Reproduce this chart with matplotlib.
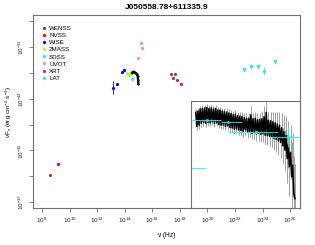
import matplotlib
matplotlib.use("Agg")
import matplotlib.pyplot as plt
import numpy as np
from matplotlib.ticker import FixedLocator, FuncFormatter, NullLocator

plt.rcParams["font.family"] = ["Liberation Sans", "DejaVu Sans"]
plt.rcParams["mathtext.default"] = "regular"

TITLE = "J050558.78+611335.9"

# all values: log10(nu / Hz) and log10(nuFnu / erg cm^-2 s^-1)
wenss_x = [8.58]
wenss_y = [-15.94]
nvss_x = [9.18]
nvss_y = [-15.51]
wise_x = [13.17, 13.46, 13.83, 13.97]
wise_y = [-12.57, -12.41, -11.97, -11.88]
wise_err = [0.25, 0.04, 0.03, 0.03]
tmass_x = [14.15, 14.31, 14.41]
tmass_y = [-12.01, -12.07, -12.05]
sdss_x = [14.55]
sdss_y = [-12.24]
uvot_x = [14.99, 15.18, 15.23]
uvot_y = [-11.43, -10.84, -11.02]
opt_x = [14.53, 14.64, 14.75, 14.86, 14.93, 14.97, 14.99]
opt_y = [-11.98, -11.94, -11.98, -12.02, -12.11, -12.27, -12.42]
xrt_x = [17.36, 17.63, 17.53, 17.77, 18.09]
xrt_y = [-12.03, -12.03, -12.18, -12.27, -12.43]
lat_ul_x = [22.66, 23.15, 23.65, 24.91]
lat_ul_y = [-11.87, -11.75, -11.75, -11.58]
lat_x = [24.13]
lat_y = [-11.91]
lat_err = [0.16]

# inset: high-energy spectrum (black, gray errors) and binned points (cyan)
spec_x = [19.15, 19.23, 19.31, 19.39, 19.47, 19.55, 19.63, 19.71, 19.79, 19.87,
          19.95, 20.03, 20.11, 20.19, 20.27, 20.35, 20.43, 20.51, 20.59, 20.67,
          20.75, 20.83, 20.91, 20.99, 21.07, 21.15, 21.23, 21.31, 21.39, 21.47,
          21.55, 21.63, 21.71, 21.79, 21.87, 21.95, 22.03, 22.11, 22.19, 22.27,
          22.35, 22.43, 22.51, 22.59, 22.67, 22.75, 22.83, 22.91, 22.99, 23.07,
          23.15, 23.23, 23.31, 23.39, 23.47, 23.55, 23.63, 23.71, 23.79, 23.87,
          23.95, 24.03, 24.11, 24.19, 24.27, 24.35, 24.43, 24.51, 24.59, 24.67,
          24.75, 24.83, 24.91, 24.99, 25.07, 25.15, 25.23, 25.31, 25.39, 25.47,
          25.55, 25.63, 25.71, 25.79, 25.87, 25.95, 26.03, 26.11, 26.19, 26.27,
          26.35]
spec_y = [-10.45, -11.00, -10.40, -10.95, -10.32, -10.88, -10.30, -10.85, -10.28, -10.88,
          -10.26, -10.84, -10.30, -10.86, -10.28, -10.82, -10.32, -10.88, -10.30, -10.86,
          -10.36, -10.92, -10.36, -10.95, -10.40, -10.94, -10.42, -11.00, -10.44, -10.98,
          -10.48, -11.04, -10.50, -11.06, -10.54, -11.10, -10.52, -11.10, -10.58, -11.14,
          -10.60, -11.16, -10.62, -11.20, -10.66, -11.14, -10.68, -11.22, -10.68, -11.20,
          -10.55, -11.26, -10.70, -11.22, -10.68, -11.28, -10.74, -11.26, -10.72, -11.30,
          -10.70, -11.28, -10.62, -11.34, -10.45, -11.36, -10.76, -11.38, -10.78, -11.40,
          -10.82, -11.46, -10.86, -11.50, -10.90, -11.56, -10.96, -11.62, -11.05, -11.75,
          -11.20, -11.92, -11.35, -12.25, -11.70, -12.55, -12.00, -12.95, -12.50, -13.60,
          -13.80]
spec_err = [0.12, 0.14, 0.12, 0.15, 0.12, 0.14, 0.12, 0.13, 0.12, 0.14,
            0.12, 0.13, 0.12, 0.14, 0.12, 0.13, 0.12, 0.14, 0.12, 0.13,
            0.13, 0.14, 0.13, 0.15, 0.13, 0.14, 0.14, 0.15, 0.14, 0.16,
            0.14, 0.16, 0.15, 0.17, 0.15, 0.18, 0.15, 0.17, 0.16, 0.19,
            0.16, 0.20, 0.17, 0.21, 0.18, 0.20, 0.19, 0.23, 0.20, 0.22,
            0.35, 0.23, 0.22, 0.26, 0.24, 0.28, 0.26, 0.29, 0.26, 0.31,
            0.29, 0.32, 0.40, 0.34, 0.45, 0.36, 0.34, 0.38, 0.36, 0.41,
            0.38, 0.44, 0.41, 0.48, 0.46, 0.54, 0.51, 0.60, 0.56, 0.70,
            0.66, 0.80, 0.76, 0.95, 0.90, 1.15, 1.05, 1.35, 1.25, 1.45,
            1.35]
bin_x = [20.00, 21.50, 23.55, 25.85, 18.60]
bin_lo = [18.60, 21.00, 21.50, 24.50, 17.50]
bin_hi = [21.00, 22.50, 25.13, 27.20, 19.92]
bin_y = [-10.75, -10.84, -11.20, -11.42, -12.62]
bin_yerr = [0.0, 0.0, 0.0, 0.36, 0.0]

AX_GRAY = "#707070"


def lin(a):
    return 10.0 ** np.asarray(a, dtype=float)


def log_err(center, err):
    c = np.asarray(center, dtype=float)
    e = np.asarray(err, dtype=float)
    return np.vstack([lin(c) - lin(c - e), lin(c + e) - lin(c)])


def log_range(center, lo, hi):
    c = lin(center)
    return np.vstack([c - lin(lo), lin(hi) - c])


fig = plt.figure(figsize=(3.15, 2.45), dpi=100)
ax = fig.add_axes([0.1032, 0.149, 0.8502, 0.7918])
ax.set_xscale("log")
ax.set_yscale("log")

ms = 2.3
handles = []
h, = ax.plot(lin(wenss_x), lin(wenss_y), "o", ms=ms, color="#8B4513", mec="none", label="WENSS")
handles.append(h)
h, = ax.plot(lin(nvss_x), lin(nvss_y), "o", ms=ms, color="#FF0000", mec="none", label="NVSS")
handles.append(h)
ax.errorbar(lin(wise_x), lin(wise_y), yerr=log_err(wise_y, wise_err), fmt="none", ecolor="#0000FF", elinewidth=0.6)
h, = ax.plot(lin(wise_x), lin(wise_y), "o", ms=ms, color="#0000FF", mec="none", label="WISE")
handles.append(h)
h, = ax.plot(lin(tmass_x), lin(tmass_y), "o", ms=ms, color="#A6FF1A", mec="none", label="2MASS")
handles.append(h)
h, = ax.plot(lin(sdss_x), lin(sdss_y), "o", ms=ms, color="#00FFFF", mec="none", label="SDSS")
handles.append(h)
ax.plot(lin(opt_x), lin(opt_y), "-o", ms=1.6, lw=1.6, color="black", mec="none")
h, = ax.plot(lin(uvot_x), lin(uvot_y), "o", ms=ms, color="#EE82EE", mec="none", label="UVOT")
handles.append(h)
h, = ax.plot(lin(xrt_x), lin(xrt_y), "o", ms=ms, color="#B03060", mec="none", label="XRT")
handles.append(h)
ax.plot(lin(lat_ul_x), lin(lat_ul_y), "v", ms=3.4, color="#40E0D0", mec="none")
ax.errorbar(lin(lat_x), lin(lat_y), yerr=log_err(lat_y, lat_err), fmt="none", ecolor="#40E0D0", elinewidth=0.6)
h, = ax.plot(lin(lat_x), lin(lat_y), "o", ms=ms, color="#40E0D0", mec="none", label="LAT")
handles.append(h)

ax.set_xlim(10 ** 7.31, 10 ** 26.74)
ax.set_ylim(10 ** -17.25, 10 ** -9.73)

ax.xaxis.set_major_locator(FixedLocator(lin(range(8, 27, 2))))
ax.xaxis.set_minor_locator(NullLocator())
ax.yaxis.set_major_locator(FixedLocator(lin([-17, -15, -13, -11])))
ax.yaxis.set_minor_locator(FixedLocator(lin([-16, -14, -12, -10])))
exp_fmt = FuncFormatter(lambda v, pos: r"$10^{%d}$" % round(np.log10(v)))
ax.xaxis.set_major_formatter(exp_fmt)
ax.yaxis.set_major_formatter(exp_fmt)
ax.yaxis.set_minor_formatter(FuncFormatter(lambda v, pos: ""))
ax.tick_params(which="both", direction="out", length=3, width=0.6, color=AX_GRAY,
               labelsize=4.5, pad=2, labelcolor="#222222")
for lab in ax.get_yticklabels():
    lab.set_rotation(90)
    lab.set_va("center")
for sp in ax.spines.values():
    sp.set_color(AX_GRAY)
    sp.set_linewidth(0.8)

ax.set_title(TITLE, fontsize=6, fontweight="bold", pad=4)
ax.set_xlabel(r"$\nu$ (Hz)", fontsize=4.8, labelpad=4)
ax.set_ylabel(r"$\nu F_{\nu}$ (erg cm$^{-2}$ s$^{-1}$)", fontsize=4.6, labelpad=1.5)

ax.legend(handles=handles, loc="upper left", bbox_to_anchor=(0.02, 0.965), frameon=False,
          fontsize=4.5, handlelength=0.5, handletextpad=0.6, labelspacing=0.28,
          borderpad=0.2, markerscale=1.0)

# inset
ax_in = fig.add_axes([0.6073, 0.149, 0.346, 0.44])
ax_in.set_zorder(3)
ax_in.set_facecolor("white")
ax_in.set_xscale("log")
ax_in.set_yscale("log")
ax_in.errorbar(lin(spec_x), lin(spec_y), yerr=log_err(spec_y, spec_err), fmt="none",
               ecolor="#a0a0a0", elinewidth=0.7)
ax_in.plot(lin(spec_x), lin(spec_y), "-", lw=1.1, color="black")
ax_in.errorbar(lin(bin_x), lin(bin_y), xerr=log_range(bin_x, bin_lo, bin_hi),
               yerr=log_err(bin_y, bin_yerr), fmt="o", ms=2.0, color="#00FFFF",
               ecolor="#00FFFF", elinewidth=0.6, mec="none")
ax_in.set_xlim(10 ** 18.83, 10 ** 26.74)
ax_in.set_ylim(10 ** -14.18, 10 ** -10.0)
ax_in.xaxis.set_major_locator(NullLocator())
ax_in.xaxis.set_minor_locator(NullLocator())
ax_in.yaxis.set_major_locator(NullLocator())
ax_in.yaxis.set_minor_locator(NullLocator())
for sp in ax_in.spines.values():
    sp.set_color(AX_GRAY)
    sp.set_linewidth(0.8)

fig.savefig("out.png", dpi=100)
